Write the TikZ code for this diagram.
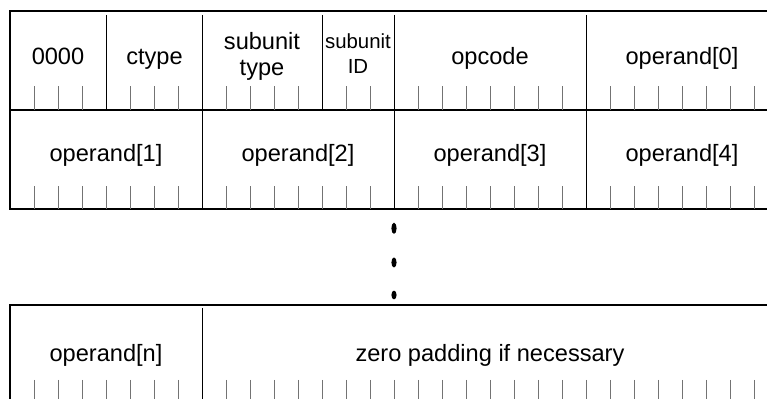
\documentclass[tikz,border=0pt]{standalone}
\usepackage{fontspec}
\setmainfont{Liberation Sans}
\usetikzlibrary{shapes.geometric}
\begin{document}
\begin{tikzpicture}[x=0.5pt,y=-0.5pt,
  frame/.style={line width=1pt,draw=black},
  divider/.style={line width=0.5pt,draw=black},
  bittick/.style={line width=0.5pt,draw=black!55},
  lbl/.style={anchor=base,inner sep=0pt,font=\fontsize{11.8}{14}\selectfont},
  smalllbl/.style={anchor=base,inner sep=0pt,font=\fontsize{10.2}{12}\selectfont},
  dotmark/.style={ellipse,fill=black,draw=none,inner sep=0pt,minimum width=2.6pt}]
\useasboundingbox (0,0) rectangle (767,399);
\clip (0,0) rectangle (767,399);
% frames
\draw[frame] (10,11.5) rectangle (778,110);
\draw[frame] (10,110) rectangle (778,209);
\draw[frame] (10,305) rectangle (778,410);
% row 1
\foreach \k in {4,8,13,16,24} \draw[divider] ({10+24*\k},15) -- ({10+24*\k},110);
\foreach \k in {1,2,3,5,6,7,9,10,11,12,14,15,17,18,19,20,21,22,23,25,26,27,28,29,30,31}
  \draw[bittick] ({10+24*\k},86.5) -- ({10+24*\k},110);
% row 2
\foreach \k in {8,16,24} \draw[divider] ({10+24*\k},110) -- ({10+24*\k},209);
\foreach \k in {1,2,3,4,5,6,7,9,10,11,12,13,14,15,17,18,19,20,21,22,23,25,26,27,28,29,30,31}
  \draw[bittick] ({10+24*\k},186.5) -- ({10+24*\k},209);
% row 3
\draw[divider] (202,308) -- (202,410);
\foreach \k in {1,2,3,4,5,6,7,9,10,11,12,13,14,15,16,17,18,19,20,21,22,23,24,25,26,27,28,29,30,31}
  \draw[bittick] ({10+24*\k},380) -- ({10+24*\k},410);
% labels row 1
\node[lbl] (f0) at (58,65) {0000};
\node[lbl] (ct) at (154.5,65) {ctype};
\node[lbl] (st1) at (262,50) {subunit};
\node[lbl] (st2) at (262,76) {type};
\node[smalllbl] (si1) at (358,48.3) {subunit};
\node[smalllbl] (si2) at (358,74) {ID};
\node[lbl] (op) at (490,65) {opcode};
\node[lbl] (o0) at (682,65) {operand[0]};
% labels row 2
\node[lbl] (o1) at (106,161.7) {operand[1]};
\node[lbl] (o2) at (298,161.7) {operand[2]};
\node[lbl] (o3) at (490,161.7) {operand[3]};
\node[lbl] (o4) at (682,161.7) {operand[4]};
% labels row 3
\node[lbl] (on) at (106,361.7) {operand[n]};
\node[lbl] (zp) at (490,361.7) {zero padding if necessary};
% ellipsis dots
\node[dotmark,minimum height=5.6pt] (d1) at (394,228.3) {};
\node[dotmark,minimum height=5pt] (d2) at (394,262.5) {};
\node[dotmark,minimum height=4.4pt] (d3) at (394,295) {};
\end{tikzpicture}
\end{document}
